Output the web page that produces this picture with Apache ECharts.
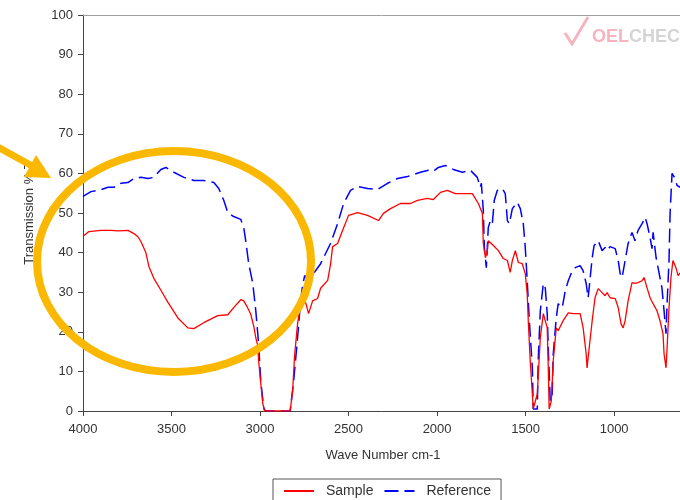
<!DOCTYPE html>
<html>
<head>
<meta charset="utf-8">
<script src="https://cdn.jsdelivr.net/npm/echarts@6/dist/echarts.min.js"></script>
<style>html,body{margin:0;padding:0;background:#fff}#c{width:680px;height:500px}</style>
</head>
<body>
<div id="c"></div>
<script>
// Sample (red) spectrum: wave number, transmission %
var sampleWn = [4000,3994,3966,3955,3900,3842,3800,3746,3712,3690,3673,3645,3628,3600,3560,3521,3464,3408,3374,3318,3239,3182,3149,3109,3092,3075,3053,3036,3024,3013,3008,2996,2985,2975,2830,2816,2805,2788,2771,2759,2743,2726,2703,2675,2658,2618,2602,2590,2562,2534,2500,2449,2393,2331,2303,2263,2207,2150,2111,2055,2021,1981,1942,1897,1829,1801,1767,1744,1739,1727,1716,1711,1682,1654,1626,1603,1587,1575,1558,1541,1519,1502,1491,1485,1474,1462,1457,1446,1434,1417,1400,1389,1378,1372,1367,1355,1344,1327,1316,1288,1259,1231,1192,1175,1158,1153,1141,1124,1108,1090,1068,1051,1040,1023,994,977,961,949,938,921,899,882,865,842,831,814,797,780,758,741,724,718,707,701,690,679,668,651,639,628];
var sampleT  = [44.1,44.1,45.3,45.6,45.6,45.6,45.5,45.6,44.8,44.0,42.8,40.0,36.5,33.5,30.5,27.5,23.5,21.0,20.8,22.3,24.1,24.3,26.1,28.1,27.8,26.5,24.5,21.5,18.5,16.5,12.7,7.0,2.0,0,0,5.0,14.0,22.0,27.5,28.3,27.5,24.6,27.8,28.4,31.0,33.0,37.0,41.5,42.3,45.6,49.4,50.1,49.4,48.1,49.9,51.1,52.4,52.4,53.2,53.7,53.4,55.2,55.7,54.9,54.9,54.9,52.4,49.9,42.3,38.7,40.5,43.0,41.8,40.5,38.5,38.0,35.0,38.0,40.5,37.5,37.2,34.7,29.6,22.8,12.7,4.3,0.5,0.5,4.3,18.5,24.6,24.6,21.0,10.9,0.5,2.5,12.7,21.0,20.3,22.8,24.8,24.6,24.6,21.0,14.4,10.9,15.9,22.8,28.6,30.9,29.9,29.1,29.9,28.6,28.4,26.1,22.0,21.0,22.8,27.8,32.4,32.2,32.4,32.9,33.7,31.1,28.6,27.1,25.3,22.8,19.5,14.4,10.9,15.9,26.1,33.7,38.0,36.2,34.2,34.9];
// Reference (blue) spectrum
var refWn = [4000,3955,3898,3859,3825,3786,3746,3712,3673,3633,3600,3560,3532,3487,3430,3374,3318,3261,3233,3205,3182,3149,3109,3092,3081,3064,3041,3024,3008,2996,2979,2970,2830,2810,2788,2771,2759,2748,2731,2703,2658,2602,2562,2528,2489,2449,2393,2337,2280,2224,2167,2094,2049,2021,1993,1953,1908,1857,1812,1773,1756,1750,1739,1733,1722,1711,1699,1688,1677,1660,1632,1615,1603,1592,1575,1547,1530,1513,1502,1491,1479,1462,1457,1434,1429,1417,1400,1389,1378,1372,1361,1350,1344,1327,1316,1293,1276,1259,1237,1220,1192,1181,1175,1158,1147,1141,1124,1113,1090,1068,1051,1040,1023,994,977,966,955,938,921,899,882,865,842,825,814,797,786,780,763,752,730,718,707,701,690,684,673,656,645,628];
var refT  = [54.2,55.4,55.9,56.5,56.5,57.5,57.7,58.7,59.0,58.7,59.0,61.0,61.5,60.3,59.0,58.2,58.2,57.7,56.2,53.2,50.1,49.1,48.4,46.3,43.0,37.2,32.2,25.3,17.0,7.6,0.8,0,0,7.6,18.5,27.8,31.9,34.2,33.2,34.4,37.2,42.3,47.3,52.4,55.7,56.7,56.2,55.9,57.5,58.7,59.2,60.3,60.8,60.5,61.5,62.0,61.0,60.3,60.8,59.0,56.5,57.5,50.6,41.3,36.2,46.3,48.1,47.3,53.2,55.7,56.2,54.9,48.1,47.3,51.1,52.7,51.1,47.3,41.3,32.9,22.8,10.9,0.5,0.5,12.7,25.3,32.2,31.1,24.6,15.9,2.5,4.3,14.4,23.5,27.1,26.1,30.4,32.9,35.4,36.2,36.7,36.7,35.4,32.2,28.6,31.1,38.7,41.8,43.0,40.5,41.3,40.5,41.5,41.0,38.0,34.7,33.7,38.0,42.3,45.1,43.0,45.6,47.3,48.9,47.3,43.8,41.0,45.1,38.7,36.2,31.1,25.3,19.5,27.1,38.0,49.9,60.0,58.7,57.0,56.5];
var xTicks = [1000,1500,2000,2500,3000,3500,4000];
var yTicks = [0,10,20,30,40,50,60,70,80,90,100];
var xMin = 628, xMax = 4000;

function pairs(xs, ys){ return xs.map(function(x,i){ return [x, ys[i]]; }); }

var orange = '#FBB800';
var font = '"Liberation Sans", Arial, sans-serif';
var chart = echarts.init(document.getElementById('c'), null, {renderer:'canvas'});
chart.setOption({
  animation: false,
  textStyle: {fontFamily: font},
  grid: {left: 83, right: 0, top: 15, bottom: 89, show: false, containLabel: false},
  legend: {
    data: ['Sample', 'Reference'],
    left: 273, top: 479,
    orient: 'horizontal',
    padding: [5, 10, 20, 10],
    itemWidth: 30, itemHeight: 14, itemGap: 10,
    borderColor: '#555', borderWidth: 1,
    itemStyle: {opacity: 0},
    textStyle: {fontSize: 14, color: '#333', padding: [0, 0, 0, 7], fontFamily: font}
  },
  xAxis: [{
    type: 'value', inverse: true, position: 'bottom',
    min: xMin, max: xMax,
    axisLine: {show: true, lineStyle: {color: '#444', width: 1}},
    axisTick: {show: true, length: 5, lineStyle: {color: '#444'}, customValues: xTicks},
    axisLabel: {fontSize: 13, color: '#333', margin: 12, customValues: xTicks,
                formatter: function (v) { return String(v); }},
    splitLine: {show: false}
  }, {
    type: 'value', inverse: true, position: 'top',
    min: xMin, max: xMax,
    axisLine: {show: true, lineStyle: {color: '#a0a0a0', width: 1}},
    axisTick: {show: false}, axisLabel: {show: false}, splitLine: {show: false}
  }],
  yAxis: {
    type: 'value',
    min: yTicks[0], max: yTicks[yTicks.length - 1], interval: 10,
    axisLine: {show: true, lineStyle: {color: '#444', width: 1}},
    axisTick: {show: true, length: 5, lineStyle: {color: '#444'}},
    axisLabel: {fontSize: 13, color: '#333', margin: 10},
    splitLine: {show: false}
  },
  series: [
    {name: 'Sample', type: 'line', data: pairs(sampleWn, sampleT), symbol: 'none', showSymbol: false,
     lineStyle: {color: '#ff0000', width: 1.3}, itemStyle: {color: '#ff0000'}, z: 3},
    {name: 'Reference', type: 'line', data: pairs(refWn, refT), symbol: 'none', showSymbol: false,
     lineStyle: {color: '#0000ff', width: 1.5, type: [14, 6]}, itemStyle: {color: '#0000ff'}, z: 2}
  ],
  graphic: [
    {type: 'text', silent: true, x: 383, y: 455,
     style: {text: 'Wave Number cm-1', align: 'center', verticalAlign: 'middle',
             font: '13px ' + font, fill: '#333'}},
    {type: 'text', silent: true, x: 29, y: 213, rotation: Math.PI / 2,
     style: {text: 'Transmission % T', align: 'center', verticalAlign: 'middle',
             font: '13px ' + font, fill: '#333'}},
    {type: 'text', silent: true, x: 592, y: 37, z: 1,
     style: {text: '{a|OEL}{b|CHECK}', verticalAlign: 'middle',
             rich: {a: {fontSize: 18, fontWeight: 'bold', fill: '#f6b3c0', fontFamily: font},
                    b: {fontSize: 18, fontWeight: 'bold', fill: '#d4d4d4', fontFamily: font}}}},
    {type: 'polyline', silent: true, z: 1,
     shape: {points: [[565, 33], [572, 44], [588, 17]]},
     style: {stroke: '#f6b3c0', lineWidth: 3, fill: null}},
    {type: 'ellipse', silent: true, z: 100,
     shape: {cx: 174, cy: 261.5, rx: 137, ry: 110.5},
     style: {stroke: orange, lineWidth: 8, fill: null}},
    {type: 'line', silent: true, z: 100,
     shape: {x1: -4, y1: 146, x2: 34, y2: 167},
     style: {stroke: orange, lineWidth: 7}},
    {type: 'polygon', silent: true, z: 100,
     shape: {points: [[36, 155], [51, 178], [24, 177]]},
     style: {fill: orange}}
  ]
});
</script>
</body>
</html>
